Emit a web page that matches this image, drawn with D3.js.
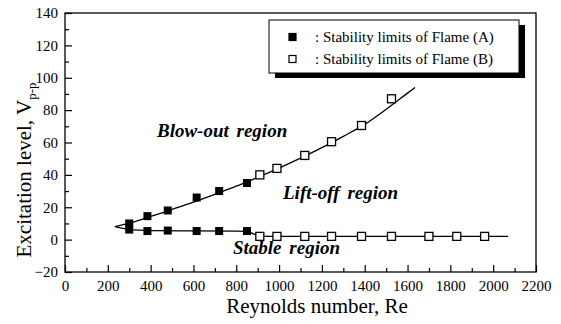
<!DOCTYPE html>
<html>
<head>
<meta charset="utf-8">
<script src="https://cdn.jsdelivr.net/npm/d3@7"></script>
<style>
  body { margin: 0; background: #fff; }
  svg text { font-family: "Liberation Serif", Tinos, "Times New Roman", Times, "DejaVu Serif", serif; fill: #000; }
</style>
</head>
<body>
<svg id="svg" width="561" height="324"></svg>
<script>
// flame (A): filled squares
const reA = [300, 385, 480, 615, 720, 850];
const blowoutA = [10, 14.5, 18, 26, 30, 35];
const liftoffA = [6.2, 5.3, 5.6, 5.3, 5.3, 5.3];

// flame (B): open squares
const reBUpper = [910, 990, 1120, 1245, 1385, 1525];
const blowoutB = [40, 44, 52, 60.5, 70.5, 87];
const reBLower = [910, 990, 1120, 1245, 1385, 1525, 1700, 1830, 1960];
const liftoffB = [2, 2, 2, 2, 2, 2, 2, 2, 2];

// fitted lines as drawn in the figure
const fitUpperRe = [233, 300, 400, 500, 600, 700, 800, 900, 1000, 1100, 1200, 1300, 1400, 1500, 1600, 1635];
const fitUpperV = [8, 10.2, 14.3, 18.7, 23.2, 28, 33, 38.5, 44.2, 50.3, 56.8, 63.8, 71.2, 80.5, 90.5, 94];
const fitLowerRe = [233, 300, 400, 600, 800, 850, 880, 910, 1000, 1500, 2070];
const fitLowerV = [8, 6.3, 5.6, 5.4, 5.3, 5.1, 3.6, 2.2, 2, 2, 2];

const xMajor = d3.range(0, 2201, 200);
const xMinor = d3.range(100, 2200, 200);
const yMajor = d3.range(-20, 141, 20);
const yMinor = d3.range(-10, 140, 20);

const legendLabels = [": Stability limits of Flame (A)", ": Stability limits of Flame (B)"];
const regionLabels = ["Blow-out region", "Lift-off region", "Stable region"];
const regionPos = [[157, 137], [283, 199], [233, 254]]; // pixel anchors of the labels

var serif = "'Liberation Serif', Tinos, 'Times New Roman', Times, 'DejaVu Serif', serif";
var margin = {top: 13, right: 25, bottom: 52, left: 65};
var width = 561, height = 324;

var x = d3.scaleLinear().domain([0, 2200]).range([margin.left, width - margin.right]);
var y = d3.scaleLinear().domain([-20, 140]).range([height - margin.bottom, margin.top]);

var svg = d3.select("#svg");

// major / minor ticks pointing inward
svg.append("g")
    .attr("transform", "translate(0," + y(-20) + ")")
    .call(d3.axisBottom(x).tickValues(xMajor).tickSize(-7).tickPadding(8).tickFormat(d3.format("d")))
    .call(g => g.select(".domain").remove())
    .call(g => g.attr("font-family", serif).attr("font-size", 15));
svg.append("g")
    .attr("transform", "translate(0," + y(-20) + ")")
    .call(d3.axisBottom(x).tickValues(xMinor).tickSize(-4).tickFormat(""))
    .call(g => g.select(".domain").remove());

svg.append("g")
    .attr("transform", "translate(" + x(0) + ",0)")
    .call(d3.axisLeft(y).tickValues(yMajor).tickSize(-7).tickPadding(7))
    .call(g => g.select(".domain").remove())
    .call(g => g.attr("font-family", serif).attr("font-size", 15));
svg.append("g")
    .attr("transform", "translate(" + x(0) + ",0)")
    .call(d3.axisLeft(y).tickValues(yMinor).tickSize(-4).tickFormat(""))
    .call(g => g.select(".domain").remove());

svg.selectAll(".tick line").attr("stroke", "#000").attr("stroke-width", 1.2);

// frame
svg.append("rect")
    .attr("x", x(0)).attr("y", y(140))
    .attr("width", x(2200) - x(0)).attr("height", y(-20) - y(140))
    .attr("fill", "none").attr("stroke", "#000").attr("stroke-width", 1.3);

// axis titles
svg.append("text")
    .attr("x", 317).attr("y", 313)
    .attr("text-anchor", "middle")
    .attr("font-family", serif)
    .attr("font-size", 21)
    .text("Reynolds number, Re");

var yt = svg.append("text")
    .attr("transform", "translate(31,170) rotate(-90)")
    .attr("text-anchor", "middle")
    .attr("font-family", serif)
    .attr("font-size", 21);
yt.append("tspan").text("Excitation level, V");
yt.append("tspan").attr("font-size", 13).attr("dy", 5).text("p-p");

// fitted curves
var line = d3.line()
    .x(d => x(d[0]))
    .y(d => y(d[1]))
    .curve(d3.curveMonotoneX);

svg.append("path")
    .datum(d3.zip(fitUpperRe, fitUpperV))
    .attr("d", line)
    .attr("fill", "none").attr("stroke", "#000").attr("stroke-width", 1.3);
svg.append("path")
    .datum(d3.zip(fitLowerRe, fitLowerV))
    .attr("d", line)
    .attr("fill", "none").attr("stroke", "#000").attr("stroke-width", 1.3);

// markers
var s = 8;
var filled = d3.zip(reA, blowoutA).concat(d3.zip(reA, liftoffA));
var open = d3.zip(reBUpper, blowoutB).concat(d3.zip(reBLower, liftoffB));

svg.append("g").selectAll("rect")
  .data(open)
  .join("rect")
    .attr("x", d => x(d[0]) - s / 2)
    .attr("y", d => y(d[1]) - s / 2)
    .attr("width", s).attr("height", s)
    .attr("fill", "#fff").attr("stroke", "#000").attr("stroke-width", 1.3);

svg.append("g").selectAll("rect")
  .data(filled)
  .join("rect")
    .attr("x", d => x(d[0]) - s / 2)
    .attr("y", d => y(d[1]) - s / 2)
    .attr("width", s).attr("height", s)
    .attr("fill", "#000");

// region labels
svg.append("g").selectAll("text")
  .data(regionLabels)
  .join("text")
    .attr("x", (d, i) => regionPos[i][0])
    .attr("y", (d, i) => regionPos[i][1])
    .attr("font-family", serif)
    .attr("font-size", 19)
    .attr("font-weight", "bold")
    .attr("font-style", "italic")
    .attr("word-spacing", 3)
    .text(d => d);

// legend with drop shadow
var lg = svg.append("g").attr("transform", "translate(269,20)");
lg.append("rect").attr("x", 6).attr("y", 5).attr("width", 250).attr("height", 53).attr("fill", "#000");
lg.append("rect").attr("width", 250).attr("height", 53)
    .attr("fill", "#fff").attr("stroke", "#000").attr("stroke-width", 1);

var items = lg.selectAll(".item")
  .data(legendLabels)
  .join("g")
    .attr("class", "item")
    .attr("transform", (d, i) => "translate(0," + (17 + i * 22) + ")");
items.append("rect")
    .attr("x", 20).attr("y", -3.5).attr("width", 7).attr("height", 7)
    .attr("fill", (d, i) => i === 0 ? "#000" : "#fff")
    .attr("stroke", "#000").attr("stroke-width", 1.2);
items.append("text")
    .attr("x", 46).attr("y", 5)
    .attr("font-family", serif)
    .attr("font-size", 15)
    .text(d => d);
</script>
</body>
</html>
